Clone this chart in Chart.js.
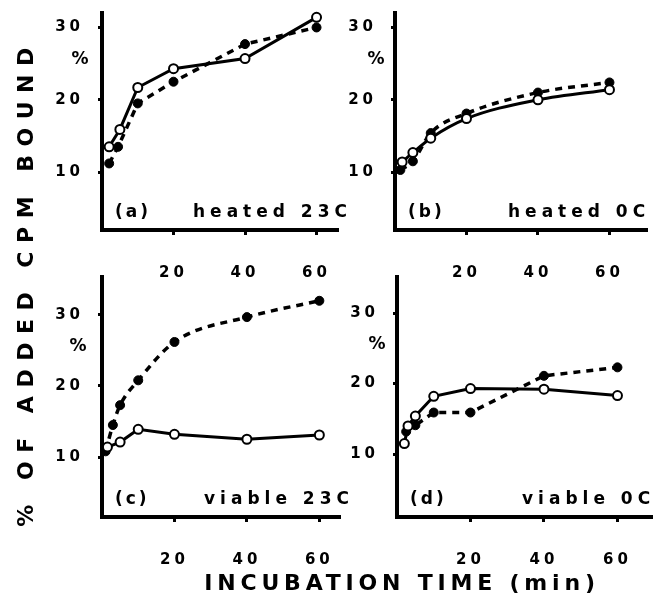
<!DOCTYPE html>
<html>
<head>
<meta charset="utf-8">
<script src="https://cdn.jsdelivr.net/npm/chart.js@4.4.1/dist/chart.umd.min.js"></script>
<style>
  html, body { margin: 0; padding: 0; background: #fff; }
  #wrap { position: relative; width: 664px; height: 601px; overflow: hidden; background: #fff; }
  canvas { position: absolute; left: 0; top: 0; }
  .title { position: absolute; font-family: "DejaVu Sans", sans-serif; font-weight: bold; color: #000; white-space: nowrap; text-align: center; }
</style>
</head>
<body>
<div id="wrap">
  <canvas id="pa" width="664" height="601"></canvas>
  <canvas id="pb" width="664" height="601"></canvas>
  <canvas id="pc" width="664" height="601"></canvas>
  <canvas id="pd" width="664" height="601"></canvas>
  <div class="title" id="ytitle" style="font-size:22px;letter-spacing:8.5px;width:600px;height:30px;line-height:30px;left:-274px;top:268px;transform:rotate(-90deg);">% OF ADDED CPM BOUND</div>
  <div class="title" id="xtitle" style="font-size:22px;letter-spacing:4.8px;width:600px;height:30px;line-height:30px;left:102px;top:568px;">INCUBATION TIME (min)</div>
</div>
<script>
// ---- data ----
const xTickValues = [20, 40, 60];
const yTickValues = [10, 20, 30];
const panelLabels = ['(a)', '(b)', '(c)', '(d)'];
const conditionLabels = ['heated 23C', 'heated 0C', 'viable 23C', 'viable 0C'];

// (a) heated 23C
const aOpenTime   = [2, 5, 10, 20, 40, 60];
const aOpenPct    = [13.5, 15.9, 21.7, 24.3, 25.7, 31.4];
const aFilledTime = [2, 4.5, 10, 20, 40, 60];
const aFilledPct  = [11.2, 13.5, 19.5, 22.5, 27.7, 30.0];

// (b) heated 0C
const bOpenTime   = [2, 5, 10, 20, 40, 60];
const bOpenPct    = [11.4, 12.7, 14.7, 17.4, 20.0, 21.4];
const bFilledTime = [1.5, 5, 10, 20, 40, 60];
const bFilledPct  = [10.3, 11.5, 15.4, 18.1, 21.0, 22.4];

// (c) viable 23C
const cOpenTime   = [1.5, 5, 10, 20, 40, 60];
const cOpenPct    = [11.4, 12.1, 13.9, 13.2, 12.5, 13.1];
const cFilledTime = [1, 3, 5, 10, 20, 40, 60];
const cFilledPct  = [10.8, 14.5, 17.3, 20.8, 26.2, 29.7, 32.0];

// (d) viable 0C
const dOpenTime   = [2, 3, 5, 10, 20, 40, 60];
const dOpenPct    = [11.5, 14.0, 15.4, 18.2, 19.3, 19.2, 18.3];
const dFilledTime = [2.5, 5, 10, 20, 40, 60];
const dFilledPct  = [13.2, 14.1, 15.9, 15.9, 21.1, 22.3];

// ---- layout (page pixels of each panel's plot area) ----
const W = 664, H = 601, XAXIS_H = 60;
const panels = [
  { id: 'pa', area: { left: 102, right: 338, top: 13,  bottom: 230 }, yMin: 2,   yMax: 32,   xMax: 66,   condX: 91,  pctDX: 22,
    open: [aOpenTime, aOpenPct], filled: [aFilledTime, aFilledPct], smoothOpen: false, smoothFilled: false },
  { id: 'pb', area: { left: 395, right: 647, top: 13,  bottom: 230 }, yMin: 2,   yMax: 32,   xMax: 70.5, condX: 113, pctDX: 19,
    open: [bOpenTime, bOpenPct], filled: [bFilledTime, bFilledPct], smoothOpen: true, smoothFilled: true },
  { id: 'pc', area: { left: 102, right: 340, top: 277, bottom: 517 }, yMin: 1.55, yMax: 35.35, xMax: 65.7, condX: 102, pctDX: 24,
    open: [cOpenTime, cOpenPct], filled: [cFilledTime, cFilledPct], smoothOpen: false, smoothFilled: true },
  { id: 'pd', area: { left: 397, right: 652, top: 277, bottom: 517 }, yMin: 1.1, yMax: 35.1, xMax: 69.4, condX: 125, pctDX: 20,
    open: [dOpenTime, dOpenPct], filled: [dFilledTime, dFilledPct], smoothOpen: false, smoothFilled: false }
];

const FONT = '"DejaVu Sans", sans-serif';

function pts(t, v) { return t.map((x, i) => ({ x: x, y: v[i] })); }

panels.forEach((p, idx) => {
  const textPlugin = {
    id: 'texts' + idx,
    beforeDraw(chart) { chart.ctx.letterSpacing = '4px'; },
    afterDraw(chart) {
      const ctx = chart.ctx, ca = chart.chartArea, ys = chart.scales.y;
      ctx.save();
      ctx.fillStyle = '#000';
      ctx.textBaseline = 'middle';
      // "%" unit label
      ctx.letterSpacing = '0px';
      ctx.font = 'bold 17px ' + FONT;
      ctx.textAlign = 'center';
      ctx.fillText('%', ca.left - p.pctDX, ys.getPixelForValue(25.5));
      // panel letter
      ctx.textAlign = 'left';
      ctx.letterSpacing = '3px';
      ctx.font = 'bold 17px ' + FONT;
      ctx.fillText(panelLabels[idx], ca.left + 13, ca.bottom - 17);
      // condition
      ctx.letterSpacing = '5px';
      ctx.fillText(conditionLabels[idx], ca.left + p.condX, ca.bottom - 17);
      ctx.restore();
    }
  };

  new Chart(document.getElementById(p.id), {
    type: 'line',
    data: {
      datasets: [
        {
          label: 'open',
          data: pts(p.open[0], p.open[1]),
          borderColor: '#000', borderWidth: 3,
          pointRadius: 4.5, pointBorderWidth: 2,
          pointBackgroundColor: '#fff', pointBorderColor: '#000',
          cubicInterpolationMode: p.smoothOpen ? 'monotone' : 'default',
          tension: 0, fill: false, clip: false
        },
        {
          label: 'filled',
          data: pts(p.filled[0], p.filled[1]),
          borderColor: '#000', borderWidth: 3.5, borderDash: [7, 6],
          pointRadius: 4.5, pointBorderWidth: 1,
          pointBackgroundColor: '#000', pointBorderColor: '#000',
          cubicInterpolationMode: p.smoothFilled ? 'monotone' : 'default',
          tension: 0, fill: false, clip: false
        }
      ]
    },
    options: {
      responsive: false,
      animation: false,
      devicePixelRatio: 1,
      layout: { padding: { left: 0, top: p.area.top, right: W - p.area.right, bottom: H - XAXIS_H - p.area.bottom } },
      plugins: { legend: { display: false }, tooltip: { enabled: false }, title: { display: false } },
      events: [],
      scales: {
        x: {
          type: 'linear', min: 0, max: p.xMax,
          afterBuildTicks(s) { s.ticks = xTickValues.map(v => ({ value: v })); },
          afterFit(s) { s.height = XAXIS_H; s.paddingLeft = 0; s.paddingRight = 0; },
          grid: { display: true, drawOnChartArea: false, drawTicks: true, tickLength: 5, tickWidth: 3, tickColor: '#000' },
          border: { display: true, width: 4, color: '#000' },
          ticks: { color: '#000', font: { family: FONT, weight: 'bold', size: 15 }, padding: 29, maxRotation: 0, autoSkip: false }
        },
        y: {
          type: 'linear', min: p.yMin, max: p.yMax,
          afterBuildTicks(s) { s.ticks = yTickValues.map(v => ({ value: v })); },
          afterFit(s) { s.width = p.area.left; s.paddingTop = 0; s.paddingBottom = 0; },
          grid: { display: true, drawOnChartArea: false, drawTicks: true, tickLength: 4, tickWidth: 3, tickColor: '#000' },
          border: { display: true, width: 4, color: '#000' },
          ticks: { color: '#000', font: { family: FONT, weight: 'bold', size: 15 }, padding: 14, autoSkip: false }
        }
      }
    },
    plugins: [textPlugin]
  });
});
</script>
</body>
</html>
